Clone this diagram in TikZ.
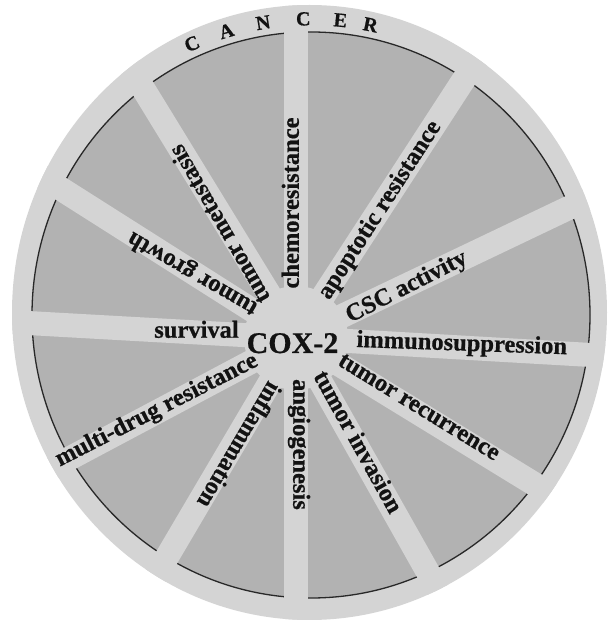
\documentclass[tikz,border=0pt]{standalone}
\usepackage{fontspec}
\setmainfont{Liberation Serif}
\newfontfamily\labfont{Liberation Serif}[BoldFeatures={FakeBold=0.7}]
\usetikzlibrary{calc}
\definecolor{ringgray}{RGB}{212,212,212}
\definecolor{sectgray}{RGB}{178,178,178}
\definecolor{arcline}{RGB}{40,40,40}
\definecolor{inkc}{RGB}{18,18,18}
\begin{document}
\begin{tikzpicture}[x=1pt,y=1pt,
  lab/.style={font=\fontsize{24.5}{28}\labfont\bfseries, text=inkc, inner sep=0pt, text height=0.55em, text depth=0pt, anchor=center},
  letter/.style={font=\fontsize{20}{22}\labfont\bfseries, text=inkc, inner sep=0pt, text height=0.66em, text depth=0pt, anchor=center},
  spoke/.style={draw=ringgray, line width=24pt}]
\useasboundingbox (0,0) rectangle (610,622);
\coordinate (C) at (296,284);
\coordinate (I) at (311,307);
\coordinate (O) at (309.5,309.5);
\fill[ringgray] (O) ellipse [x radius=297.5, y radius=307.5];
\begin{scope}
  \clip (O) ellipse [x radius=297.5, y radius=307.5];
  \fill[sectgray] (I) ellipse [x radius=279, y radius=283];
  \draw[arcline, line width=1.3pt] (I) ellipse [x radius=279, y radius=283];
  \foreach \a in {90,57,25.5,-3.3,-31.5,-60.6,-90,-120.5,-152,176.8,147.6,121.5}
    \draw[spoke] (C) -- ++(\a:340);
\end{scope}
\fill[ringgray] (C) circle [radius=52];
% labels
\node[lab, rotate=90] (chemo) at ($(C)+(90:135)$) {chemoresistance};
\node[lab, rotate=57.2] (apop) at ($(C)+(55.4:153)$) {apoptotic resistance};
\node[lab, rotate=27] (csc) at ($(C)+(23:122)$) {CSC activity};
\node[lab, rotate=-2] (immuno) at ($(C)+(-3.4:166)$) {immunosuppression};
\node[lab, rotate=-31.5] (recur) at ($(C)+(-30.9:141)$) {tumor recurrence};
\node[lab, rotate=-61] (invas) at ($(C)+(-61.4:121)$) {tumor invasion};
\node[lab, rotate=-90] (angio) at ($(C)+(-90:106.5)$) {angiogenesis};
\node[lab, rotate=239.5] (inflam) at ($(C)+(239.7:121)$) {inflammation};
\node[lab, rotate=27] (mdr) at ($(C)+(208.7:157)$) {multi-drug resistance};
\node[lab] (surv) at (196.5,287) {survival};
\node[lab, rotate=150] (growth) at ($(C)+(146.3:122)$) {tumor growth};
\node[lab, rotate=120] (meta) at ($(C)+(121.9:137)$) {tumor metastasis};
\node[font=\fontsize{30}{34}\labfont\bfseries, text=inkc, inner sep=0pt, anchor=base] (cox) at (292.5,269) {COX-2};
% CANCER
\node[letter, rotate=23.7] (c1) at ($(I)+(113.7:293)$) {C};
\node[letter, rotate=16.6] (c2) at ($(I)+(106.6:293)$) {A};
\node[letter, rotate=9.3] (c3) at ($(I)+(99.3:293)$) {N};
\node[letter, rotate=1.5] (c4) at ($(I)+(91.5:293)$) {C};
\node[letter, rotate=-5.7] (c5) at ($(I)+(84.3:293)$) {E};
\node[letter, rotate=-11.6] (c6) at ($(I)+(78.4:293)$) {R};
\end{tikzpicture}
\end{document}
